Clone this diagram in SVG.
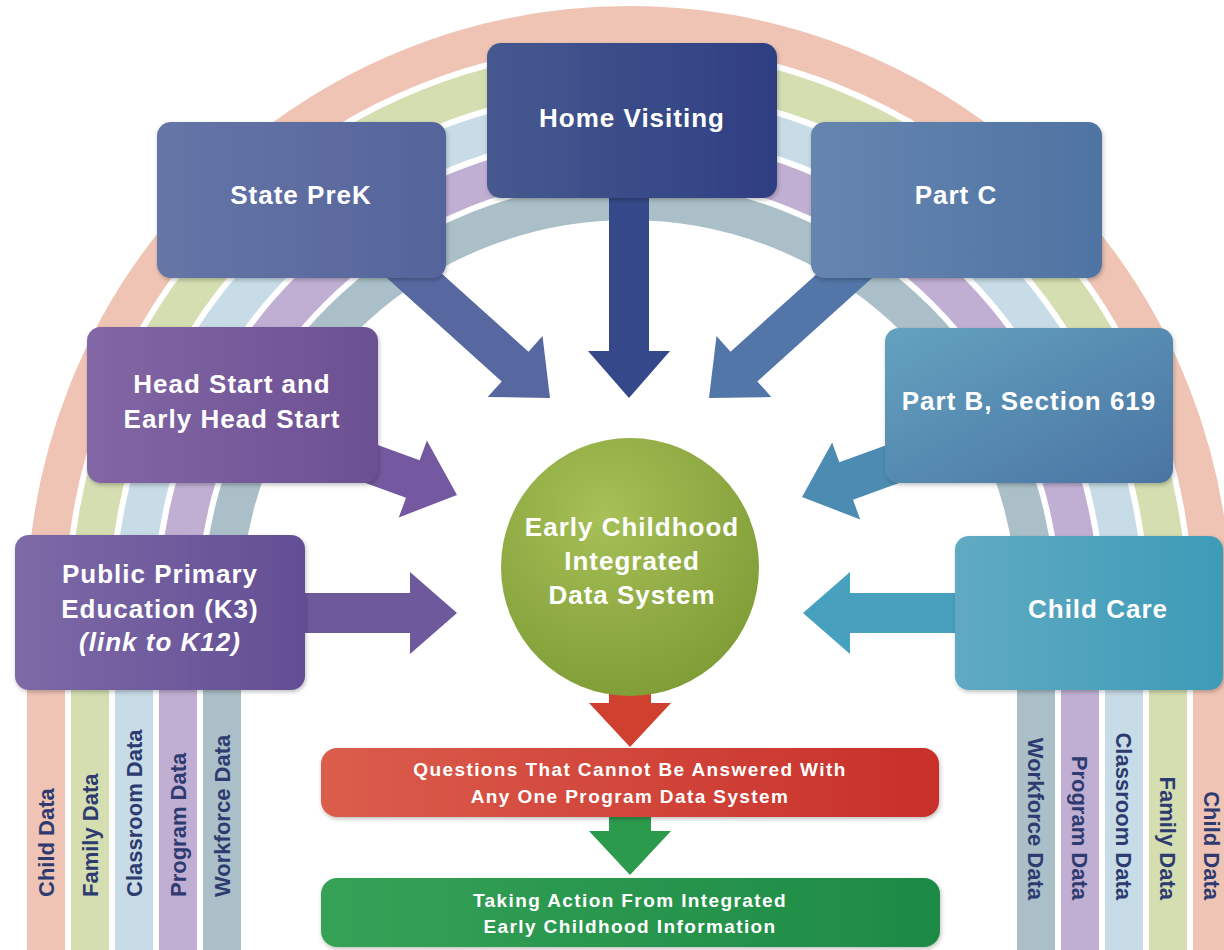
<svg xmlns="http://www.w3.org/2000/svg" width="1224" height="950" viewBox="0 0 1224 950">
<defs>
<style>
.band{fill:none;stroke-width:38}
.bt{font-family:"Liberation Sans",Arial,sans-serif;font-weight:bold;font-size:22px;fill:#2D3B70}
.nt{font-family:"Liberation Sans",Arial,sans-serif;font-weight:bold;font-size:26px;fill:#FFFFFF;text-anchor:middle;letter-spacing:1px}
.st{font-family:"Liberation Sans",Arial,sans-serif;font-weight:bold;font-size:19px;fill:#FFFFFF;text-anchor:middle;letter-spacing:1.4px}
.box{filter:url(#sh)}
</style>
<filter id="sh" x="-10%" y="-10%" width="120%" height="130%">
<feDropShadow dx="1" dy="2" stdDeviation="2" flood-color="#000" flood-opacity="0.25"/>
</filter>
<linearGradient id="gHome" x1="0" y1="0" x2="1" y2="0"><stop offset="0" stop-color="#46598F"/><stop offset="1" stop-color="#2E3E82"/></linearGradient>
<linearGradient id="gPrek" x1="0" y1="0" x2="1" y2="0"><stop offset="0" stop-color="#6675A7"/><stop offset="1" stop-color="#55649B"/></linearGradient>
<linearGradient id="gPartc" x1="0" y1="0" x2="1" y2="0"><stop offset="0" stop-color="#6686B0"/><stop offset="1" stop-color="#4F73A3"/></linearGradient>
<linearGradient id="gHead" x1="0" y1="0" x2="1" y2="0"><stop offset="0" stop-color="#8366A5"/><stop offset="1" stop-color="#6B5093"/></linearGradient>
<linearGradient id="gPublic" x1="0" y1="0" x2="1" y2="0"><stop offset="0" stop-color="#7D6AA7"/><stop offset="1" stop-color="#634E94"/></linearGradient>
<linearGradient id="gPartb" x1="0" y1="0" x2="1" y2="1"><stop offset="0" stop-color="#63A2BF"/><stop offset="1" stop-color="#4A74A3"/></linearGradient>
<linearGradient id="gChild" x1="0" y1="0" x2="1" y2="0"><stop offset="0" stop-color="#60AAC3"/><stop offset="1" stop-color="#3D9BB7"/></linearGradient>
<linearGradient id="gRed" x1="0" y1="0" x2="1" y2="0"><stop offset="0" stop-color="#DB5D4C"/><stop offset="1" stop-color="#C82F2A"/></linearGradient>
<linearGradient id="gGreen" x1="0" y1="0" x2="1" y2="0"><stop offset="0" stop-color="#35A257"/><stop offset="1" stop-color="#1D8A45"/></linearGradient>
<radialGradient id="gCircle" cx="0.4" cy="0.3" r="0.8"><stop offset="0" stop-color="#A7C057"/><stop offset="1" stop-color="#7C9933"/></radialGradient>
<path id="arr" d="M -210 -20 L -47 -20 L -47 -41 L 0 0 L -47 41 L -47 20 L -210 20 Z"/>
<path id="arrS" d="M -70 -21 L -44 -21 L -44 -41 L 0 0 L -44 41 L -44 21 L -70 21 Z"/>
</defs>
<rect width="1224" height="950" fill="#FFFFFF"/>

<g id="rainbow">
<path class="band" stroke="#EFC4B4" d="M 46 950 L 46 608 A 583 583 0 0 1 1212 608 L 1212 950"/>
<path class="band" stroke="#D5DEB1" d="M 90 950 L 90 608 A 539 539 0 0 1 1168 608 L 1168 950"/>
<path class="band" stroke="#C7DCE6" d="M 134 950 L 134 608 A 495 495 0 0 1 1124 608 L 1124 950"/>
<path class="band" stroke="#C1AFD3" d="M 178 950 L 178 608 A 451 451 0 0 1 1080 608 L 1080 950"/>
<path class="band" stroke="#AABFC7" d="M 222 950 L 222 608 A 407 407 0 0 1 1036 608 L 1036 950"/>
</g>

<g id="band-labels">
<text class="bt" transform="translate(54 897) rotate(-90)">Child Data</text>
<text class="bt" transform="translate(98 897) rotate(-90)">Family Data</text>
<text class="bt" transform="translate(142 897) rotate(-90)">Classroom Data</text>
<text class="bt" transform="translate(186 897) rotate(-90)">Program Data</text>
<text class="bt" transform="translate(230 897) rotate(-90)">Workforce Data</text>
<text class="bt" text-anchor="end" transform="translate(1028 900) rotate(90)">Workforce Data</text>
<text class="bt" text-anchor="end" transform="translate(1072 900) rotate(90)">Program Data</text>
<text class="bt" text-anchor="end" transform="translate(1116 900) rotate(90)">Classroom Data</text>
<text class="bt" text-anchor="end" transform="translate(1160 900) rotate(90)">Family Data</text>
<text class="bt" text-anchor="end" transform="translate(1204 900) rotate(90)">Child Data</text>
</g>

<g id="connectors">
<use href="#arr" fill="#35498A" transform="translate(629 398) rotate(90)"/>
<use href="#arr" fill="#5768A1" transform="translate(550 398) rotate(42)"/>
<use href="#arr" fill="#5276A8" transform="translate(709 398) rotate(138)"/>
<use href="#arr" fill="#7559A0" transform="translate(457 495) rotate(20)"/>
<use href="#arr" fill="#4D8CB2" transform="translate(802 497) rotate(160)"/>
<use href="#arr" fill="#6E599D" transform="translate(457 613)"/>
<use href="#arr" fill="#47A0BE" transform="translate(803 613) rotate(180)"/>
<use href="#arrS" fill="#D0402F" transform="translate(630 747) rotate(90)"/>
<use href="#arrS" fill="#2C9A4D" transform="translate(630 875) rotate(90)"/>
</g>

<g id="home-visiting">
<rect class="box" x="487" y="43" width="290" height="155" rx="14" fill="url(#gHome)"/>
<text class="nt" x="632" y="127">Home Visiting</text>
</g>
<g id="state-prek">
<rect class="box" x="157" y="122" width="289" height="156" rx="14" fill="url(#gPrek)"/>
<text class="nt" x="301" y="204">State PreK</text>
</g>
<g id="part-c">
<rect class="box" x="811" y="122" width="291" height="156" rx="14" fill="url(#gPartc)"/>
<text class="nt" x="956" y="204">Part C</text>
</g>
<g id="head-start">
<rect class="box" x="87" y="327" width="291" height="156" rx="14" fill="url(#gHead)"/>
<text class="nt" x="232" y="393">Head Start and</text>
<text class="nt" x="232" y="428">Early Head Start</text>
</g>
<g id="part-b">
<rect class="box" x="885" y="328" width="288" height="155" rx="14" fill="url(#gPartb)"/>
<text class="nt" x="1029" y="410">Part B, Section 619</text>
</g>
<g id="public-primary">
<rect class="box" x="15" y="535" width="290" height="155" rx="14" fill="url(#gPublic)"/>
<text class="nt" x="160" y="583">Public Primary</text>
<text class="nt" x="160" y="618">Education (K3)</text>
<text class="nt" x="160" y="651" font-style="italic">(link to K12)</text>
</g>
<g id="child-care">
<rect class="box" x="955" y="536" width="268" height="154" rx="14" fill="url(#gChild)"/>
<text class="nt" x="1098" y="618">Child Care</text>
</g>
<g id="ecids">
<circle cx="630" cy="567" r="129" fill="url(#gCircle)"/>
<text class="nt" x="632" y="536">Early Childhood</text>
<text class="nt" x="632" y="570">Integrated</text>
<text class="nt" x="632" y="604">Data System</text>
</g>
<g id="questions">
<rect class="box" x="321" y="748" width="618" height="69" rx="16" fill="url(#gRed)"/>
<text class="st" x="630" y="776">Questions That Cannot Be Answered With</text>
<text class="st" x="630" y="803">Any One Program Data System</text>
</g>
<g id="taking-action">
<rect class="box" x="321" y="878" width="619" height="69" rx="16" fill="url(#gGreen)"/>
<text class="st" x="630" y="907">Taking Action From Integrated</text>
<text class="st" x="630" y="933">Early Childhood Information</text>
</g>
</svg>
